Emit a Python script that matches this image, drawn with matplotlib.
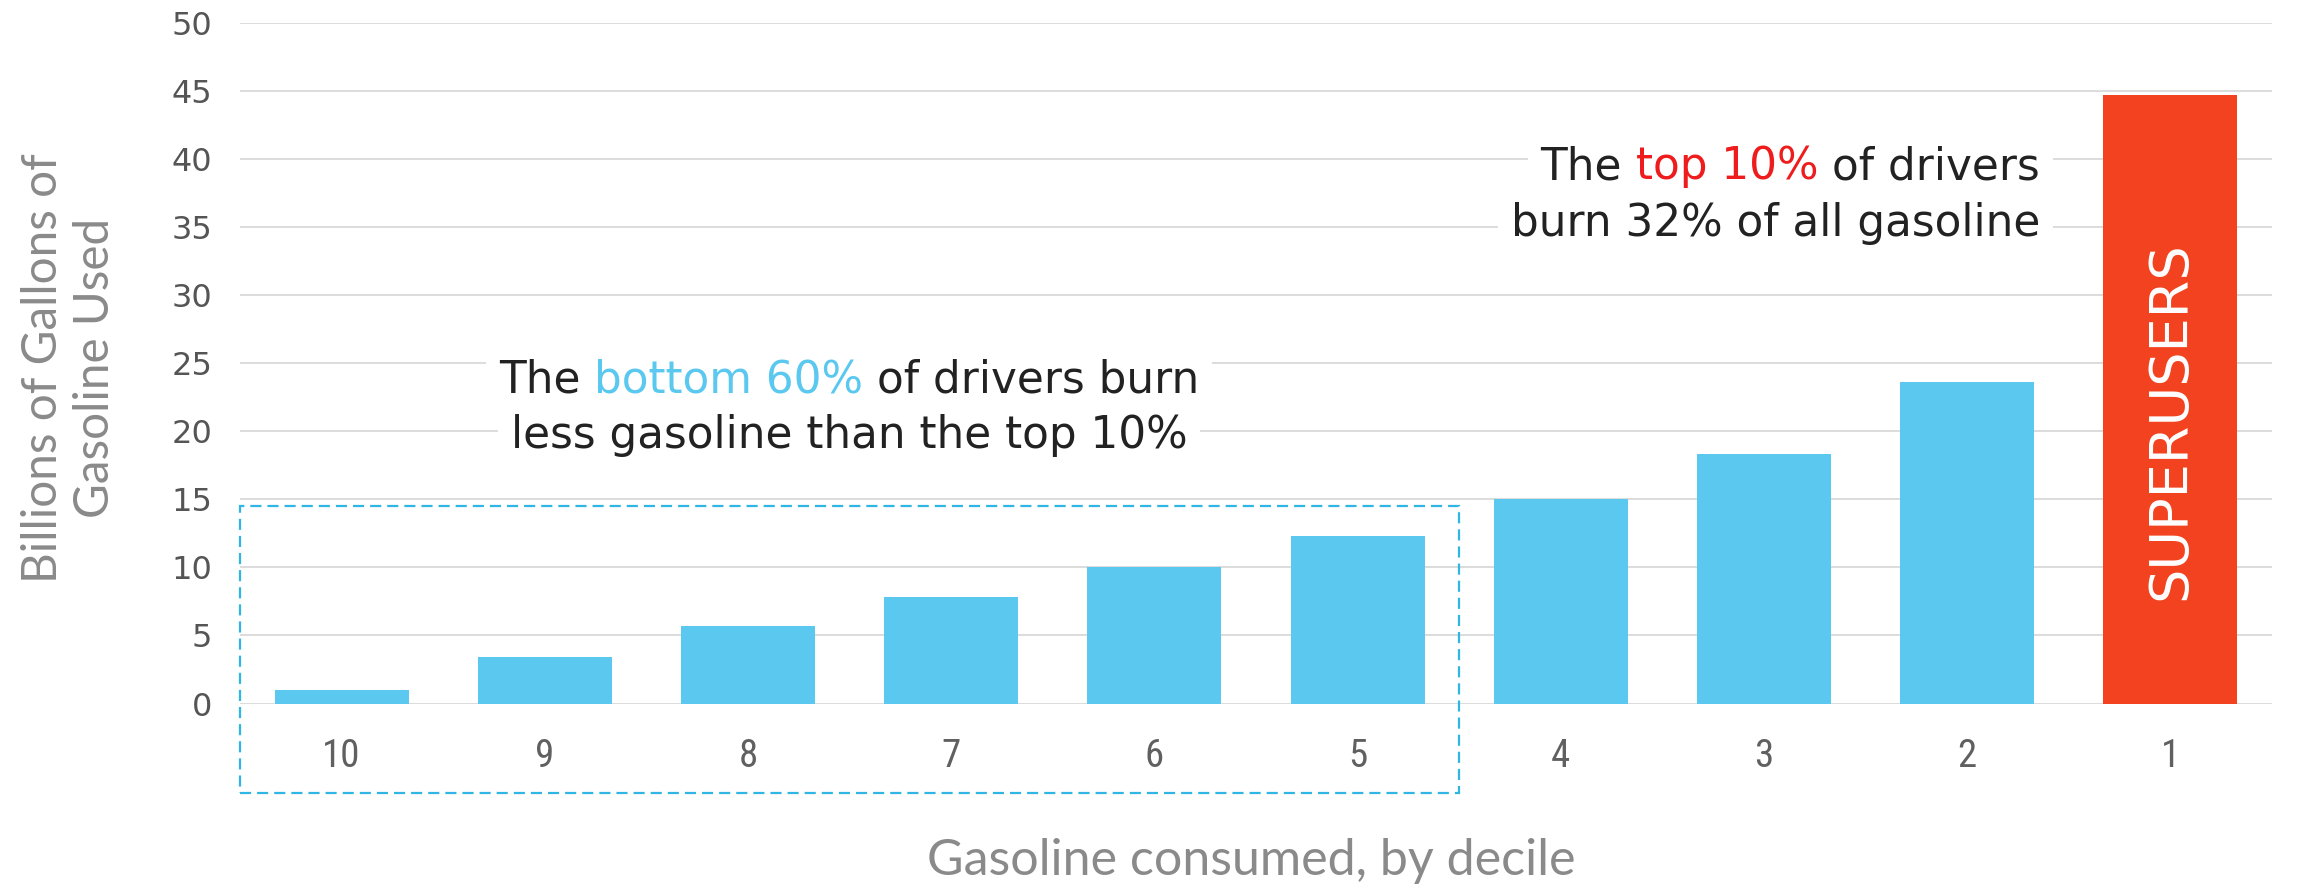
import matplotlib
matplotlib.use("Agg")
import matplotlib.pyplot as plt
from matplotlib import font_manager as fm
from matplotlib.patches import Rectangle

# ---------------- data ----------------
deciles = ["10", "9", "8", "7", "6", "5", "4", "3", "2", "1"]
gallons = [1.0, 3.4, 5.7, 7.8, 10.0, 12.3, 15.0, 18.3, 23.6, 44.7]
bar_colors = ["#5BC8F0"] * 9 + ["#F2421F"]
yticks = [0, 5, 10, 15, 20, 25, 30, 35, 40, 45, 50]
ylabel_text = "Billions of Gallons of\nGasoline Used"
xlabel_text = "Gasoline consumed, by decile"
bar_label = "SUPERUSERS"
note_bottom = [[("The ", "#222222"), ("bottom 60%", "#5BC8F0"), (" of drivers burn", "#222222")],
               [("less gasoline than the top 10%", "#222222")]]
note_top = [[("The ", "#222222"), ("top 10%", "#EE1C1C"), (" of drivers", "#222222")],
            [("burn 32% of all gasoline", "#222222")]]

# ---------------- fonts ----------------
names = {f.name for f in fm.fontManager.ttflist}
def pick(*cands):
    for c in cands:
        if c in names:
            return c
    return "DejaVu Sans"

main_font = pick("DejaVu Sans")
narrow_font = pick("Liberation Sans Narrow", "Roboto Condensed", "Open Sans Condensed", "Liberation Sans")
label_font = pick("Lato", "Liberation Sans", "Roboto")

W, H = 2298, 885
fig = plt.figure(figsize=(W / 100, H / 100), dpi=100)
renderer = fig.canvas.get_renderer()

def text_extent(s, **kw):
    t = fig.text(0, 0, s, va="baseline", **kw)
    bb = t.get_window_extent(renderer)
    t.remove()
    return bb

def text_width(s, **kw):
    return text_extent(s, **kw).width

def fit_size(s, target_px, **kw):
    w = text_width(s, fontsize=20, **kw)
    return 20.0 * target_px / w

# ---------------- axes ----------------
ax = fig.add_axes([240 / W, 1 - 703.5 / H, (2272 - 240) / W, (703.5 - 22.7) / H])
x = list(range(len(deciles)))
ax.bar(x, gallons, width=0.66, color=bar_colors, zorder=2)
ax.set_xlim(-0.5, len(deciles) - 0.5)
ax.set_ylim(0, 50)
ax.set_yticks(yticks)
ax.set_xticks(x)
ax.set_xticklabels(deciles)
ax.yaxis.grid(True, color="#D9D9D9", linewidth=1.3, zorder=0)
ax.set_axisbelow(True)
for sp in ax.spines.values():
    sp.set_visible(False)
ax.tick_params(axis="both", length=0)
ax.tick_params(axis="y", pad=20, labelsize=23, labelcolor="#555555")
ax.tick_params(axis="x", pad=25, labelsize=28, labelcolor="#606060")
for lbl in ax.get_yticklabels():
    lbl.set_family(main_font)
for lbl in ax.get_xticklabels():
    lbl.set_family(narrow_font)

# dashed box around bottom 60%
ax.add_patch(Rectangle((-0.5, -6.55), 6.0, 14.5 + 6.55, fill=False,
                       edgecolor="#2FB6E2", linewidth=1.6, linestyle=(0, (5, 2.7)),
                       clip_on=False, zorder=3))

# SUPERUSERS label inside red bar
su_fs = fit_size(bar_label, 358, family=main_font)
ax.text(9, 20.8, bar_label, rotation=90, ha="center", va="center",
        color="white", fontsize=su_fs, family=main_font, zorder=4)

# ---------------- annotations ----------------
fs_note = fit_size("The bottom 60% of drivers burn", 700, family=main_font)

def data_y_px(y):
    return ax.transData.transform((0, y))[1]

def draw_note(lines, anchor_px, baselines, align, fs):
    lw_ = text_width("l", fontsize=fs, family=main_font)
    pad = 13
    for pieces, yb in zip(lines, baselines):
        full = "".join(p for p, _ in pieces)
        bb = text_extent(full, fontsize=fs, family=main_font)
        total = bb.width
        left = anchor_px - total / 2 if align == "center" else anchor_px - total
        ypx = data_y_px(yb)
        # white block behind the line, masking the gridlines
        y0 = ypx + (bb.y0 - 0)  # bb measured at baseline y=0
        fig.patches.append(Rectangle(((left - pad) / W, (y0 - pad) / H),
                                     (total + 2 * pad) / W, (bb.height + 2 * pad) / H,
                                     transform=fig.transFigure, facecolor="white",
                                     edgecolor="none", zorder=3))
        prefix = ""
        for s, c in pieces:
            lead = len(s) - len(s.lstrip(" "))
            before = prefix + s[:lead]
            off = text_width(before + "l", fontsize=fs, family=main_font) - lw_ if before else 0
            fig.text((left + off) / W, ypx / H, s.lstrip(" "),
                     fontsize=fs, family=main_font, color=c, ha="left", va="baseline",
                     zorder=4)
            prefix += s

draw_note(note_bottom, 849, [22.85, 18.74], "center", fs_note)
draw_note(note_top, 2040, [38.5, 34.3], "right", fs_note)

# ---------------- axis labels ----------------
xl_fs = fit_size(xlabel_text, 650, family=label_font)
fig.text(1251 / W, 10 / H, xlabel_text, ha="center", va="baseline",
         fontsize=xl_fs, family=label_font, color="#8A8A8A")

yl_fs = fit_size("Billions of Gallons of", 430, family=label_font)
fig.text(69 / W, 0.584, ylabel_text, rotation=90, ha="center", va="center",
         multialignment="center", linespacing=1.2,
         fontsize=yl_fs, family=label_font, color="#8A8A8A")

fig.savefig("out.png", dpi=100, facecolor="white")
